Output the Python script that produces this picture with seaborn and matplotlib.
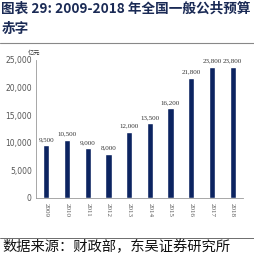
import matplotlib
matplotlib.use("Agg")
import matplotlib.pyplot as plt
import seaborn as sns
import pandas as pd
import numpy as np
from matplotlib.lines import Line2D

years = ["2009", "2010", "2011", "2012", "2013", "2014", "2015", "2016", "2017", "2018"]
deficit = [9500, 10500, 9000, 8000, 12000, 13500, 16200, 21800, 23800, 23800]
yticks = [0, 5000, 10000, 15000, 20000, 25000]

sns.set_style("white")
plt.rcParams['font.family'] = ['Noto Sans CJK SC', 'DejaVu Sans']

df = pd.DataFrame({"year": years, "deficit": deficit})

fig = plt.figure(figsize=(2.55, 2.56), dpi=100)
ax = fig.add_axes([0.141, 0.227, 0.812, 0.539])
sns.barplot(data=df, x="year", y="deficit", color="#0c2461", width=0.3,
            saturation=1, ax=ax)

ax.set_ylim(0, 25000)
ax.set_xlim(-0.5, 9.5)
ax.set_yticks(yticks)
ax.set_yticklabels([f"{v:,}" for v in yticks], fontsize=5.5, color="#555555",
                   family=["Liberation Sans Narrow", "DejaVu Sans"])
ax.set_xticks(range(len(years)))
ax.set_xticklabels(years, rotation=270, fontsize=5, color="#555555",
                   family=["Liberation Serif", "DejaVu Sans"])
ax.set_xticks(np.arange(-0.5, len(years), 1.0), minor=True)
ax.set_xlabel("")
ax.set_ylabel("")
for s in ["top", "right"]:
    ax.spines[s].set_visible(False)
for s in ["left", "bottom"]:
    ax.spines[s].set_color("#999999")
    ax.spines[s].set_linewidth(0.6)
ax.tick_params(axis="y", length=2, width=0.5, color="#999999", pad=1)
ax.tick_params(axis="x", which="major", length=0, pad=4)
ax.tick_params(axis="x", which="minor", length=2, width=0.5, color="#999999")

for i, v in enumerate(deficit):
    ax.text(i, v + 600, f"{v:,}", ha="center", va="bottom", fontsize=5,
            color="#333333", family=["Liberation Serif", "DejaVu Sans"])

ax.text(-0.04, 1.025, "亿元", transform=ax.transAxes, fontsize=4.5,
        color="#333333", ha="left", va="bottom")

fig.text(0.005, 0.965, "图表 29: 2009-2018 年全国一般公共预算", fontsize=9.8,
         fontweight="bold", color="#1a2a55", ha="left", va="center")
fig.text(0.005, 0.887, "赤字", fontsize=9.8, fontweight="bold",
         color="#1a2a55", ha="left", va="center")
fig.add_artist(Line2D([0, 1], [0.832, 0.832], transform=fig.transFigure,
                      color="#888888", linewidth=0.8))
fig.add_artist(Line2D([0, 1], [0.072, 0.072], transform=fig.transFigure,
                      color="#555555", linewidth=0.6))
fig.text(0.01, 0.035, "数据来源：财政部，东吴证券研究所", fontsize=10.3,
         color="#111111", ha="left", va="center")

fig.savefig("out.png", dpi=100)
